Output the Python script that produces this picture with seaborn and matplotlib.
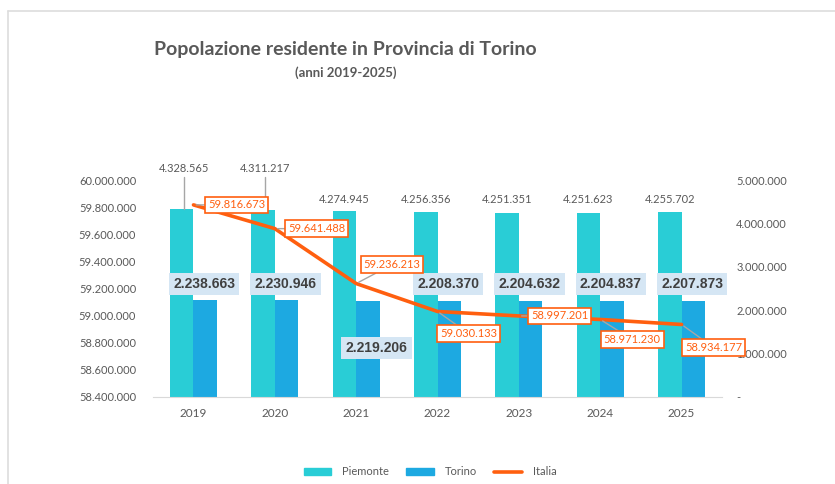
import pandas as pd
import matplotlib.pyplot as plt
import seaborn as sns
from matplotlib.patches import Patch
from matplotlib.lines import Line2D

# data
anni = ['2019', '2020', '2021', '2022', '2023', '2024', '2025']
piemonte = [4328565, 4311217, 4274945, 4256356, 4251351, 4251623, 4255702]
torino = [2238663, 2230946, 2219206, 2208370, 2204632, 2204837, 2207873]
italia = [59816673, 59641488, 59236213, 59030133, 58997201, 58971230, 58934177]

c_piem = '#29CDD6'
c_tor = '#1DA9E1'
c_ita = '#FF5F0F'
grigio = '#595959'


def fmt(v):
    return f"{v:,}".replace(",", ".")


df = pd.DataFrame({'anno': anni * 2,
                   'valore': piemonte + torino,
                   'area': ['Piemonte'] * 7 + ['Torino'] * 7})

sns.set_style('white')
plt.rcParams['font.family'] = ['Lato', 'DejaVu Sans']

fig = plt.figure(figsize=(8.35, 4.84), dpi=100)
ax = fig.add_axes([0.183, 0.180, 0.682, 0.448])

# bars (right axis scale)
sns.barplot(data=df, x='anno', y='valore', hue='area', palette=[c_piem, c_tor],
            width=0.58, gap=0, ax=ax, legend=False, saturation=1, linewidth=0)
ax.set_ylim(0, 5000000)
ax.set_xlim(-0.5, 6.5)
ax.set_xlabel('')
ax.set_ylabel('')

# line (left axis)
ax2 = ax.twinx()
sns.lineplot(x=list(range(7)), y=italia, color=c_ita, lw=2.6, ax=ax2)
ax2.set_ylim(58400000, 60000000)

# put bar scale on the right, line scale on the left
ax.yaxis.tick_right()
ax2.yaxis.tick_left()

ax.set_yticks(range(0, 5000001, 1000000))
ax.set_yticklabels(['-'] + [fmt(v) for v in range(1000000, 5000001, 1000000)])
for lab in ax.get_yticklabels():
    lab.set_horizontalalignment('left')
ax.tick_params(axis='y', length=0, pad=10, labelsize=8, labelcolor=grigio)
ax.tick_params(axis='x', length=0, pad=8, labelsize=8.5, labelcolor=grigio)
ax.set_xticks([i + 0.5 for i in range(-1, 7)], minor=True)
ax.tick_params(axis='x', which='minor', length=4, color='#D9D9D9', direction='out')
for s in ['top', 'left', 'right']:
    ax.spines[s].set_visible(False)
ax.spines['bottom'].set_color('#D9D9D9')

ax2.set_yticks(range(58400000, 60000001, 200000))
ax2.set_yticklabels([fmt(v) for v in range(58400000, 60000001, 200000)])
ax2.tick_params(axis='y', length=0, pad=12, labelsize=8, labelcolor=grigio)
for s in ax2.spines.values():
    s.set_visible(False)

# Piemonte labels
for i, v in enumerate(piemonte):
    if i < 2:
        ax.plot([i - 0.12, i - 0.12], [5060000, v], color='#A6A6A6', lw=1, clip_on=False)
        ax.text(i - 0.12, 5270000, fmt(v), ha='center', va='center', fontsize=8,
                color=grigio, clip_on=False)
    else:
        ax.text(i - 0.145, 4560000, fmt(v), ha='center', va='center', fontsize=8,
                color=grigio, clip_on=False)

# Torino labels
for i, v in enumerate(torino):
    if i == 2:
        x_lab, y_lab = i + 0.25, 1130000
    else:
        x_lab, y_lab = i + 0.13, 2600000
    ax.text(x_lab, y_lab, fmt(v), ha='center', va='center', fontsize=10,
            fontweight='bold', family='Liberation Sans', color='#404040',
            bbox=dict(boxstyle='square,pad=0.3', fc='#D5E6F4', ec='none'))

# Italia labels
offsets = [(43, 0), (42, 0), (36, 19), (31, -22), (41, 0), (32, -20), (32, -23)]
for i, v in enumerate(italia):
    ax2.annotate(fmt(v), xy=(i, v), xytext=offsets[i], textcoords='offset pixels',
                 ha='center', va='center', fontsize=8, color=c_ita,
                 bbox=dict(boxstyle='square,pad=0.25', fc='white', ec=c_ita, lw=1.2),
                 arrowprops=dict(arrowstyle='-', color='#A6A6A6', lw=1,
                                 shrinkA=0, shrinkB=2))

# titles
fig.text(0.414, 0.897, 'Popolazione residente in Provincia di Torino', ha='center',
         va='center', fontsize=14, fontweight='bold', color=grigio)
fig.text(0.414, 0.849, '(anni 2019-2025)', ha='center', va='center',
         fontsize=9.5, fontweight='bold', color=grigio)

# legend
handles = [Patch(color=c_piem), Patch(color=c_tor), Line2D([], [], color=c_ita, lw=2.6)]
fig.legend(handles, ['Piemonte', 'Torino', 'Italia'], loc='center',
           bbox_to_anchor=(0.515, 0.025), ncol=3, frameon=False, fontsize=8,
           labelcolor=grigio, handlelength=2.5, handleheight=0.5,
           handletextpad=1.0, columnspacing=1.5)

# chart border
fig.add_artist(Line2D([0.01, 0.01], [0, 0.977], color='#DDDDDD', lw=1.2))
fig.add_artist(Line2D([0.01, 1], [0.977, 0.977], color='#DDDDDD', lw=1.2))

fig.savefig('out.png', dpi=100)
